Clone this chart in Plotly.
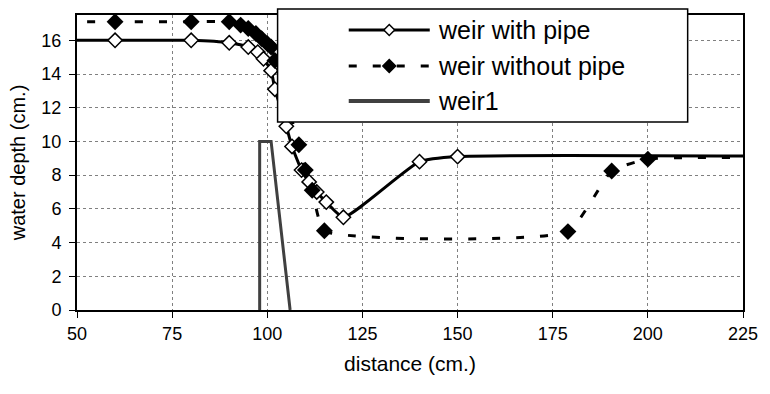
import plotly.graph_objects as go

# Measured water surface profiles (distance in cm, depth in cm)
dist_pipe = [40, 60, 80, 90, 95, 97.5, 99, 101, 102, 105, 106.5, 109, 111, 113, 115.5, 120, 140, 150, 250]
depth_pipe = [16.0, 16.0, 16.0, 15.85, 15.6, 15.3, 14.9, 14.2, 13.1, 10.9, 9.7, 8.3, 7.6, 7.0, 6.4, 5.5, 8.8, 9.1, 9.1]

dist_nopipe = [40, 60, 80, 90, 93, 95, 97, 98.5, 100, 101, 102, 108.3, 110, 111.8, 115, 179, 190.5, 200, 250]
depth_nopipe = [17.1, 17.1, 17.1, 17.1, 16.9, 16.7, 16.4, 16.1, 15.8, 15.6, 14.8, 9.8, 8.3, 7.1, 4.7, 4.65, 8.25, 8.95, 9.0]

# Weir outline
dist_weir = [98, 98, 101, 106]
height_weir = [0, 10, 10, 0]

x_ticks = [50, 75, 100, 125, 150, 175, 200, 225]
y_ticks = [0, 2, 4, 6, 8, 10, 12, 14, 16]

series_names = ["weir with pipe", "weir without pipe", "weir1"]

FONT = "Liberation Sans, Arial, sans-serif"
W, H = 770, 394
ML, MR, MT, MB = 77, 19, 15, 84
PW, PH = W - ML - MR, H - MT - MB


def px(xp):
    return (xp - ML) / PW


def py(yp):
    return (H - MB - yp) / PH


fig = go.Figure()

fig.add_trace(go.Scatter(
    x=dist_pipe, y=depth_pipe, mode="lines+markers", name=series_names[0],
    line=dict(color="black", width=3, shape="spline", smoothing=0.5),
    marker=dict(symbol="diamond", size=11, color="white",
                line=dict(color="black", width=1.5)),
))
fig.add_trace(go.Scatter(
    x=dist_nopipe, y=depth_nopipe, mode="lines+markers", name=series_names[1],
    line=dict(color="black", width=3, dash="8px,16px", shape="spline", smoothing=0.45),
    marker=dict(symbol="diamond", size=13, color="black"),
))
fig.add_trace(go.Scatter(
    x=dist_weir, y=height_weir, mode="lines", name=series_names[2],
    line=dict(color="#404040", width=3),
))

# Legend box drawn over the plot
shapes = [dict(type="rect", xref="paper", yref="paper", layer="above",
               x0=px(280), x1=px(695), y0=py(122), y1=py(9),
               fillcolor="white", line=dict(color="black", width=1.5))]
annotations = []
rows = [
    (30, dict(color="black", width=3), "open"),
    (66, dict(color="black", width=3, dash="8px,16px"), "filled"),
    (101, dict(color="#404040", width=4), None),
]
for (ry, lstyle, mk), label in zip(rows, series_names):
    shapes.append(dict(type="line", xref="paper", yref="paper", layer="above",
                       x0=px(352), x1=px(434), y0=py(ry), y1=py(ry), line=lstyle))
    if mk:
        h = 5.5 if mk == "open" else 6.5
        cx = 393
        path = (f"M {px(cx - h)},{py(ry)} L {px(cx)},{py(ry - h)} "
                f"L {px(cx + h)},{py(ry)} L {px(cx)},{py(ry + h)} Z")
        shapes.append(dict(type="path", xref="paper", yref="paper", layer="above",
                           path=path,
                           fillcolor="white" if mk == "open" else "black",
                           line=dict(color="black", width=1.5)))
    annotations.append(dict(xref="paper", yref="paper", x=px(440), y=py(ry),
                            xanchor="left", yanchor="middle", text=label,
                            showarrow=False, font=dict(family=FONT, size=25, color="black")))

axis_common = dict(
    showgrid=True, gridcolor="#808080", griddash="dot", gridwidth=1,
    showline=True, linecolor="black", linewidth=2, mirror=True,
    ticks="outside", ticklen=6, tickcolor="black", tickwidth=1,
    zeroline=False, tickfont=dict(family=FONT, size=18, color="black"),
)

fig.update_layout(
    width=W, height=H,
    margin=dict(l=ML, r=MR, t=MT, b=MB),
    paper_bgcolor="white", plot_bgcolor="white",
    showlegend=False,
    font=dict(family=FONT, color="black"),
    xaxis=dict(range=[50, 225], tickvals=x_ticks,
               title=dict(text="distance (cm.)", font=dict(family=FONT, size=21), standoff=14),
               **axis_common),
    yaxis=dict(range=[0, 17.5], tickvals=y_ticks, ticklabelstandoff=4,
               title=dict(text="water depth (cm.)", font=dict(family=FONT, size=20), standoff=10),
               **axis_common),
    shapes=shapes,
    annotations=annotations,
)

fig.write_html("out.html")
